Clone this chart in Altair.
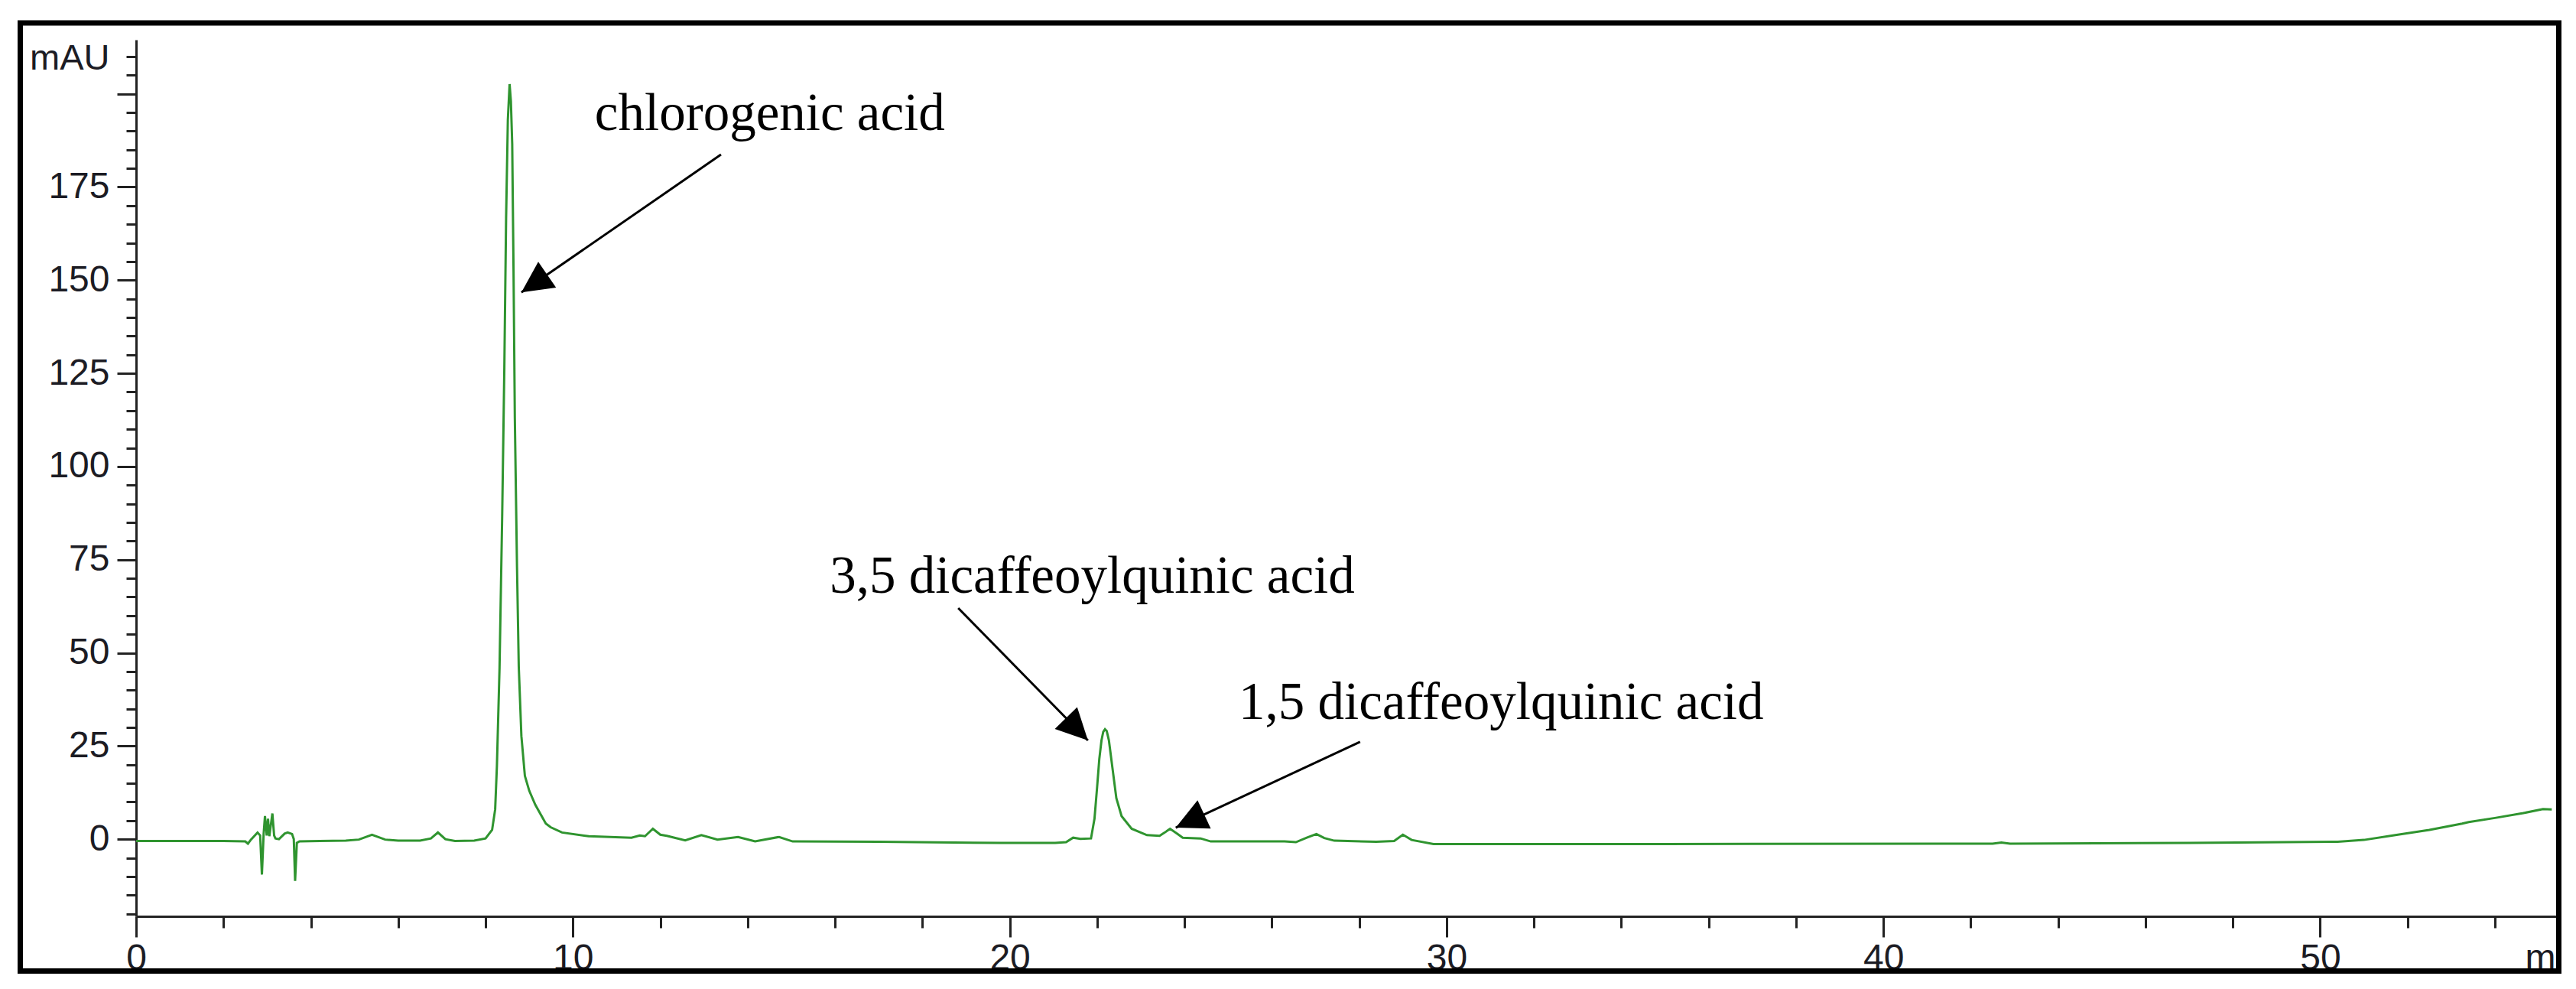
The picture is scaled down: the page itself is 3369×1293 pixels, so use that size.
import math
import altair as alt
import pandas as pd

# ---------------- data ----------------
time_min = [
    0.0, 1.0, 2.0, 2.5, 2.56, 2.63, 2.78, 2.84, 2.88, 2.92, 2.95, 2.99, 3.02, 3.05,
    3.12, 3.16, 3.19, 3.27, 3.40, 3.47, 3.57, 3.61, 3.64, 3.68, 3.74, 4.2, 4.8, 5.1,
    5.4, 5.7, 6.0, 6.5, 6.75, 6.91, 7.08, 7.3, 7.74, 8.0, 8.15, 8.22, 8.26, 8.32,
    8.38, 8.43, 8.47, 8.51, 8.55, 8.58, 8.61, 8.64, 8.67, 8.72, 8.76, 8.82, 8.90,
    9.0, 9.14, 9.38, 9.49, 9.75, 10.36, 11.34, 11.53, 11.65, 11.83, 12.0, 12.15,
    12.57, 12.94, 13.31, 13.78, 14.17, 14.72, 15.03, 17.0, 19.8, 21.04, 21.29,
    21.45, 21.62, 21.86, 21.94, 22.00, 22.05, 22.10, 22.14, 22.18, 22.22, 22.27,
    22.35, 22.44, 22.56, 22.79, 23.14, 23.43, 23.55, 23.67, 23.84, 23.96, 24.37,
    24.60, 26.29, 26.55, 26.8, 27.02, 27.2, 27.43, 28.39, 28.8, 29.0, 29.2, 29.7,
    35.0, 42.5, 42.7, 42.9, 47.0, 50.4, 51.0, 51.72, 52.5, 53.25, 53.4, 54.0,
    54.65, 55.1, 55.3,
]
signal_mau = [
    -0.5, -0.5, -0.5, -0.6, -1.2, -0.1, 1.8, 1.0, -9.5, 1.5, 6.2, 1.0, 5.5, 0.8,
    6.9, 1.0, 0.2, 0.0, 1.5, 1.8, 1.4, 0.0, -11.2, -1.0, -0.6, -0.5, -0.4, -0.1,
    1.2, -0.1, -0.4, -0.4, 0.2, 1.8, 0.0, -0.5, -0.4, 0.2, 2.5, 8.0, 19.7, 46.0,
    86.5, 126.6, 166.6, 193.0, 202.6, 198.0, 186.6, 153.0, 113.0, 73.0, 46.3, 27.7, 17.0,
    13.0, 9.2, 4.2, 3.2, 1.8, 0.8, 0.4, 1.0, 0.8, 2.8, 1.2, 0.9,
    -0.3, 1.1, -0.1, 0.6, -0.6, 0.6, -0.6, -0.7, -1.0, -1.0, -0.8,
    0.4, 0.1, 0.2, 5.5, 14.0, 21.5, 26.5, 28.8, 29.5, 29.0, 26.5,
    19.2, 11.0, 6.2, 2.8, 1.1, 0.9, 1.8, 2.8, 1.4, 0.4, 0.2,
    -0.6, -0.6, -0.8, 0.4, 1.4, 0.3, -0.4, -0.7, -0.5, 1.2, -0.2, -1.3,
    -1.3, -1.2, -0.9, -1.2, -1.0, -0.7, -0.2, 1.1, 2.5, 4.2, 4.6, 5.7,
    7.0, 8.1, 8.0,
]

peak_names = ["chlorogenic acid", "3,5 dicaffeoylquinic acid", "1,5 dicaffeoylquinic acid"]
label_t = [10.50, 15.88, 25.24]
label_v = [190.2, 66.1, 32.2]
arrow_t_start = [13.39, 18.82, 28.02]
arrow_v_start = [183.7, 62.0, 26.1]
arrow_t_tip = [8.82, 21.79, 23.80]
arrow_v_tip = [146.7, 26.5, 3.1]

x_tick_values = list(range(0, 56, 2))
y_tick_values = list(range(-20, 215, 5))

X_DOMAIN = [0, 55.4]
Y_DOMAIN = [-20.7, 214.5]
W, H = 3165, 1146

# ---------------- derived tables ----------------
px_x = W / (X_DOMAIN[1] - X_DOMAIN[0])
px_y = H / (Y_DOMAIN[1] - Y_DOMAIN[0])

trace = pd.DataFrame({"t": time_min, "v": signal_mau})
labels_df = pd.DataFrame({"t": label_t, "v": label_v, "name": peak_names})
angles = [
    math.degrees(math.atan2((t1 - t0) * px_x, (v1 - v0) * px_y)) % 360
    for t0, v0, t1, v1 in zip(arrow_t_start, arrow_v_start, arrow_t_tip, arrow_v_tip)
]
arrows_df = pd.DataFrame({
    "t": arrow_t_start, "v": arrow_v_start,
    "t2": arrow_t_tip, "v2": arrow_v_tip,
})
heads_df = pd.DataFrame({"t": arrow_t_tip, "v": arrow_v_tip, "angle": angles})

LABEL_FONT = "Liberation Sans"
AX_COLOR = "#222222"
TXT_COLOR = "#1c1c24"

x_axis = alt.Axis(
    values=x_tick_values,
    labelExpr="datum.value % 10 === 0 ? datum.label : ''",
    grid=False,
    domainColor=AX_COLOR, domainWidth=3,
    tickColor=AX_COLOR, tickWidth=3,
    tickSize={"condition": {"test": "datum.value % 10 === 0", "value": 27}, "value": 15},
    labelFont=LABEL_FONT, labelFontSize=48, labelColor=TXT_COLOR,
    labelPadding=4, labelOverlap=False, labelFlush=False, labelBaseline="top",
    title="min", titleFont=LABEL_FONT, titleFontSize=48, titleFontWeight="normal",
    titleColor=TXT_COLOR, titleAlign="left", titleBaseline="top",
    titleX=3124, titleY=31, titleAngle=0,
)
y_axis = alt.Axis(
    values=y_tick_values,
    labelExpr="(datum.value % 25 === 0 && datum.value >= 0 && datum.value <= 175) ? datum.label : ''",
    grid=False,
    domainColor=AX_COLOR, domainWidth=3,
    tickColor=AX_COLOR, tickWidth=3,
    tickSize={"condition": {"test": "datum.value % 25 === 0", "value": 25}, "value": 13},
    labelFont=LABEL_FONT, labelFontSize=48, labelColor=TXT_COLOR,
    labelPadding=10, labelOverlap=False, labelFlush=False, labelBaseline="middle",
    title="mAU", titleFont=LABEL_FONT, titleFontSize=47, titleFontWeight="normal",
    titleColor=TXT_COLOR, titleAngle=0, titleAlign="right", titleBaseline="middle",
    titleX=-35, titleY=24,
)

X = alt.X("t:Q", scale=alt.Scale(domain=X_DOMAIN, nice=False, zero=False), axis=x_axis)
Y = alt.Y("v:Q", scale=alt.Scale(domain=Y_DOMAIN, nice=False, zero=False), axis=y_axis)

line = alt.Chart(trace).mark_line(
    color="#2f942f", strokeWidth=3, interpolate="linear"
).encode(x=X, y=Y, order="t:Q")

texts = alt.Chart(labels_df).mark_text(
    align="left", baseline="alphabetic", font="Liberation Serif",
    fontSize=69, color="black"
).encode(x=X, y=Y, text="name:N")

rules = alt.Chart(arrows_df).mark_rule(color="black", strokeWidth=3).encode(
    x=X, y=Y, x2="t2:Q", y2="v2:Q"
)

heads = alt.Chart(heads_df).mark_point(
    shape="M0,0L0.5,1L-0.5,1Z", size=6724, filled=True, color="black",
    opacity=1, strokeWidth=0
).encode(x=X, y=Y, angle=alt.Angle("angle:Q", scale=None))

frame = alt.Chart(pd.DataFrame({"k": [0]})).mark_rect(
    filled=False, stroke="black", strokeWidth=7, fillOpacity=0
).encode(
    x=alt.value(-151.5), x2=alt.value(3168.5),
    y=alt.value(-22), y2=alt.value(1217.5)
)

chart = alt.layer(line, rules, heads, texts, frame).properties(
    width=W, height=H,
    autosize=alt.AutoSizeParams(type="none"),
    padding={"left": 170, "top": 44, "right": 7, "bottom": 75},
    background="white",
).configure_view(strokeWidth=0)

chart.save("out.html", embed_options={"renderer": "svg", "actions": False})
